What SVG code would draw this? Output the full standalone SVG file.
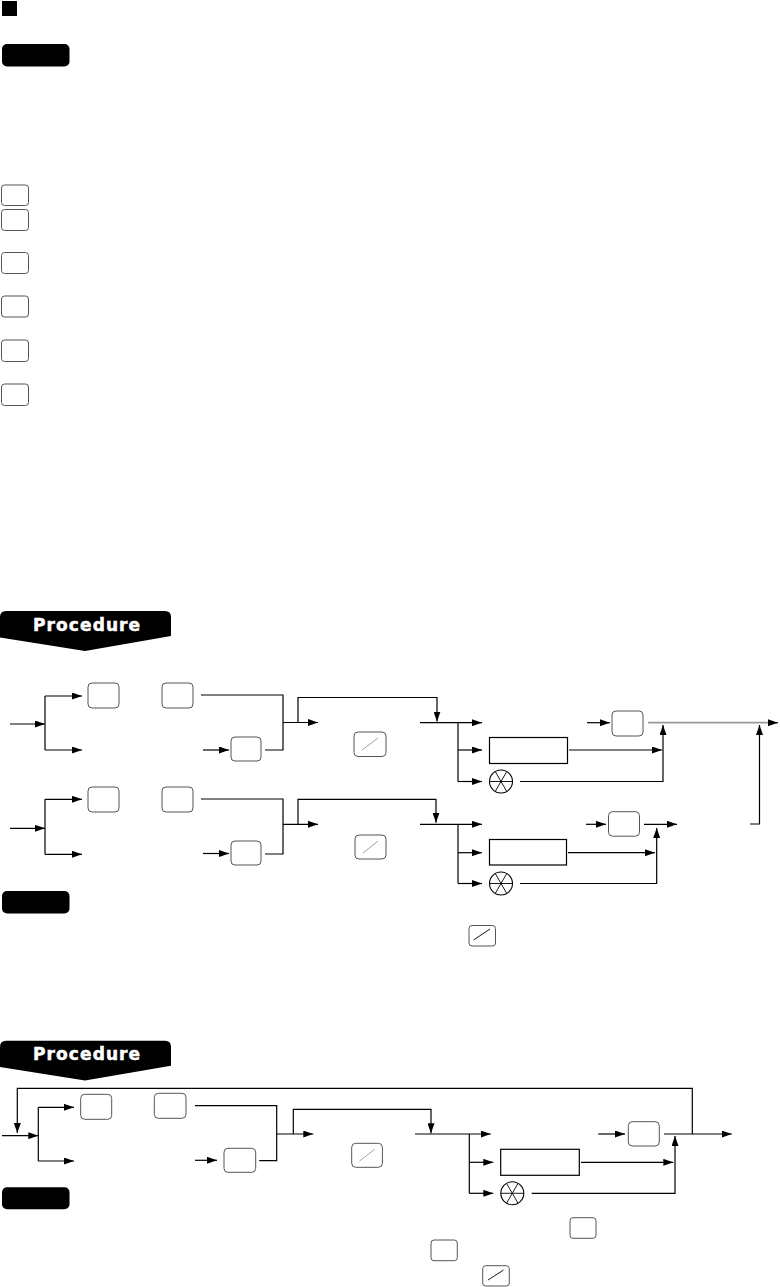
<svg xmlns="http://www.w3.org/2000/svg" width="780" height="1287" viewBox="0 0 780 1287">
<defs>
<style>
.ln{fill:none;stroke:#000;stroke-width:1.2}
.lg{fill:none;stroke:#999;stroke-width:1.8}
.key{fill:#fff;stroke:#555;stroke-width:1}
.box{fill:#fff;stroke:#000;stroke-width:1.2}
.blk{fill:#000}
.sl{stroke:#888;stroke-width:0.8}
.ptxt{font-family:"DejaVu Sans","Liberation Sans",sans-serif;font-weight:bold;font-size:17px;letter-spacing:1.1px;fill:#fff;stroke:#fff;stroke-width:0.5}
</style>
<marker id="ar" markerUnits="userSpaceOnUse" markerWidth="10" markerHeight="7" refX="10" refY="3.5" orient="auto">
<path d="M0,0 L10,3.5 L0,7 Z" fill="#000"/>
</marker>
<g id="mult">
<circle cx="0" cy="0" r="11.5" fill="#fff" stroke="#000" stroke-width="1.1"/>
<path d="M-11.5,0 H11.5 M-5.75,-9.96 L5.75,9.96 M5.75,-9.96 L-5.75,9.96" stroke="#000" stroke-width="0.9"/>
</g>
</defs>

<g id="header">
<rect class="blk" x="2" y="1" width="15" height="15"/>
<rect id="badge1" class="blk" x="2" y="44" width="67.5" height="22.5" rx="5"/>
</g>

<g id="legend-keys">
<rect class="key" x="1.5" y="185" width="27" height="20.5" rx="3"/>
<rect class="key" x="1.5" y="209.5" width="27" height="21" rx="3"/>
<rect class="key" x="1.5" y="252.5" width="27" height="21" rx="3"/>
<rect class="key" x="1.5" y="296" width="27" height="21" rx="3"/>
<rect class="key" x="1.5" y="340" width="27" height="21.5" rx="3"/>
<rect class="key" x="1.5" y="384" width="27" height="21.5" rx="3"/>
</g>

<g id="procedure1">
<path class="blk" d="M0,617 Q0,611 6,611 H165 Q171,611 171,617 V636 L85,651 L0,637.5 Z"/>
<text class="ptxt" x="33" y="631">Procedure</text>
</g>

<g id="connectors">
<!-- row 1 -->
<path class="ln" d="M10,724 H45" marker-end="url(#ar)"/>
<path class="ln" d="M45,696 V750"/>
<path class="ln" d="M45,696 H82" marker-end="url(#ar)"/>
<path class="ln" d="M45,750 H82" marker-end="url(#ar)"/>
<path class="ln" d="M201,695 H283 V750 H265"/>
<path class="ln" d="M203,750 H229" marker-end="url(#ar)"/>
<path class="ln" d="M283,722.5 H318" marker-end="url(#ar)"/>
<path class="ln" d="M298,722.5 V697.5 H437 V721.5" marker-end="url(#ar)"/>
<path class="ln" d="M420,722.7 H482" marker-end="url(#ar)"/>
<path class="ln" d="M458,722.7 V781.5"/>
<path class="ln" d="M458,750 H482" marker-end="url(#ar)"/>
<path class="ln" d="M458,781.5 H482" marker-end="url(#ar)"/>
<path class="ln" d="M569,750 H662" marker-end="url(#ar)"/>
<path class="ln" d="M520,781.5 H663 V725" marker-end="url(#ar)"/>
<path class="ln" d="M587,722.7 H610" marker-end="url(#ar)"/>
<path class="lg" d="M648,722.7 H770"/>
<path class="ln" d="M768,722.7 H778" marker-end="url(#ar)"/>
<path class="ln" d="M750,824 H759.5 V725" marker-end="url(#ar)"/>
<!-- row 2 -->
<path class="ln" d="M10,828.3 H45" marker-end="url(#ar)"/>
<path class="ln" d="M45,799.3 V854.3"/>
<path class="ln" d="M45,799.3 H82" marker-end="url(#ar)"/>
<path class="ln" d="M45,854.3 H82" marker-end="url(#ar)"/>
<path class="ln" d="M201,799 H283 V854 H265"/>
<path class="ln" d="M203,853.5 H229" marker-end="url(#ar)"/>
<path class="ln" d="M283,824.3 H318" marker-end="url(#ar)"/>
<path class="ln" d="M298,824.3 V799.3 H436 V822.7" marker-end="url(#ar)"/>
<path class="ln" d="M420,824.3 H482" marker-end="url(#ar)"/>
<path class="ln" d="M458,824.3 V883.5"/>
<path class="ln" d="M458,852.7 H482" marker-end="url(#ar)"/>
<path class="ln" d="M458,883.5 H482" marker-end="url(#ar)"/>
<path class="ln" d="M568,852.7 H655" marker-end="url(#ar)"/>
<path class="ln" d="M520,883.5 H656.7 V828" marker-end="url(#ar)"/>
<path class="ln" d="M586,824.3 H606" marker-end="url(#ar)"/>
<path class="ln" d="M644,824.3 H677" marker-end="url(#ar)"/>
<!-- row 3 -->
<path class="ln" d="M692.3,1134 V1088.3 H17.3 V1133" marker-end="url(#ar)"/>
<path class="ln" d="M2,1135.7 H38.3" marker-end="url(#ar)"/>
<path class="ln" d="M38.3,1107.3 V1161"/>
<path class="ln" d="M38.3,1107.3 H74" marker-end="url(#ar)"/>
<path class="ln" d="M38.3,1161 H74" marker-end="url(#ar)"/>
<path class="ln" d="M195,1105.7 H276.7 V1160.7 H259.3"/>
<path class="ln" d="M195,1160.3 H217" marker-end="url(#ar)"/>
<path class="ln" d="M276.7,1134 H313.3" marker-end="url(#ar)"/>
<path class="ln" d="M293.3,1134 V1109.3 H431 V1133.3" marker-end="url(#ar)"/>
<path class="ln" d="M415,1134 H490.7" marker-end="url(#ar)"/>
<path class="ln" d="M469.3,1134 V1193.3"/>
<path class="ln" d="M469.3,1162.3 H493.3" marker-end="url(#ar)"/>
<path class="ln" d="M469.3,1193.3 H493.3" marker-end="url(#ar)"/>
<path class="ln" d="M581,1162.3 H673.3" marker-end="url(#ar)"/>
<path class="ln" d="M531.7,1193.3 H675 V1136" marker-end="url(#ar)"/>
<path class="ln" d="M598.3,1134 H625" marker-end="url(#ar)"/>
<path class="ln" d="M664,1134 H731.7" marker-end="url(#ar)"/>
</g>

<g id="row1-nodes">
<rect class="key" x="88" y="683" width="31" height="25" rx="4"/>
<rect class="key" x="162" y="683" width="31" height="25" rx="4"/>
<rect class="key" x="231" y="737" width="30" height="24" rx="4"/>
<g id="slash1"><rect class="key" x="354" y="732" width="32" height="24.5" rx="4"/><line class="sl" x1="362" y1="750" x2="378" y2="738"/></g>
<rect class="box" x="489.5" y="737.5" width="78" height="26"/>
<use href="#mult" x="501" y="781.5"/>
<rect class="key" x="612" y="711" width="31" height="25" rx="4"/>
</g>

<g id="row2-nodes">
<rect class="key" x="88" y="787" width="31" height="25" rx="4"/>
<rect class="key" x="162" y="787" width="31" height="25" rx="4"/>
<rect class="key" x="231" y="841" width="30" height="24" rx="4"/>
<g id="slash2"><rect class="key" x="355" y="835" width="31" height="24" rx="4"/><line class="sl" x1="363" y1="853" x2="378" y2="841"/></g>
<rect class="box" x="489.5" y="839.5" width="77" height="25.5"/>
<use href="#mult" x="501" y="883.5"/>
<rect class="key" x="608.5" y="811.7" width="31" height="24.5" rx="4"/>
</g>

<g id="note1">
<rect class="blk" x="2" y="891" width="67.5" height="22.5" rx="5"/>
<g id="slash-note1"><rect class="key" x="469" y="925.5" width="26.5" height="20.5" rx="3"/><line x1="473.5" y1="940" x2="490" y2="929" stroke="#000" stroke-width="0.9"/></g>
</g>

<g id="procedure2">
<path class="blk" d="M0,1046.7 Q0,1040.7 6,1040.7 H165 Q171,1040.7 171,1046.7 V1065.7 L85,1080.5 L0,1067 Z"/>
<text class="ptxt" x="33" y="1060">Procedure</text>
</g>

<g id="row3-nodes">
<rect class="key" x="80.7" y="1094.3" width="31" height="25" rx="4"/>
<rect class="key" x="154.3" y="1093.3" width="31.7" height="25" rx="4"/>
<rect class="key" x="224" y="1148.3" width="31.7" height="24" rx="4"/>
<g id="slash3"><rect class="key" x="351.7" y="1143.3" width="30.7" height="24" rx="4"/><line class="sl" x1="359.5" y1="1161" x2="374.5" y2="1149.5"/></g>
<rect class="box" x="500.7" y="1149.3" width="78.6" height="26"/>
<use href="#mult" x="512.3" y="1193.3"/>
<rect class="key" x="628.3" y="1121.7" width="31" height="24.3" rx="4"/>
</g>

<g id="note2">
<rect class="blk" x="2" y="1187.3" width="67.5" height="22" rx="5"/>
<rect class="key" x="570" y="1217.7" width="26" height="20.6" rx="3"/>
<rect class="key" x="431" y="1240" width="26.3" height="20.7" rx="3"/>
<g id="slash-note2"><rect class="key" x="482.7" y="1265.7" width="26.6" height="20.3" rx="3"/><line x1="488" y1="1280" x2="503.5" y2="1270" stroke="#000" stroke-width="0.9"/></g>
</g>
</svg>
